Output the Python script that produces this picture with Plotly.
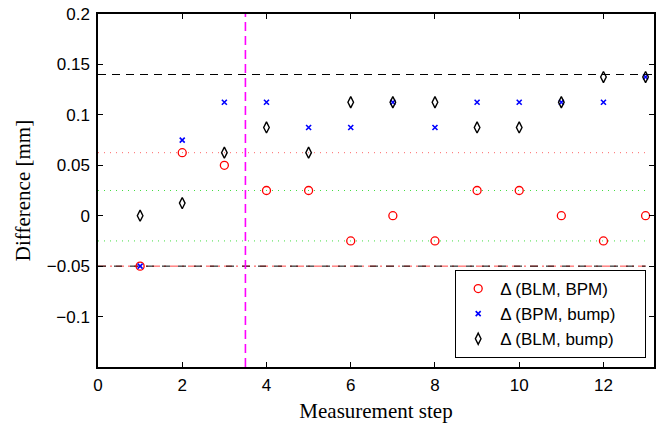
import plotly.graph_objects as go

steps = list(range(1, 14))
blm_bpm = [-0.05, 0.0625, 0.05, 0.025, 0.025, -0.025, 0.0, -0.025, 0.025, 0.025, 0.0, -0.025, 0.0]
bpm_bump = [-0.05, 0.075, 0.1125, 0.1125, 0.0875, 0.0875, 0.1125, 0.0875, 0.1125, 0.1125, 0.1125, 0.1125, 0.1375]
blm_bump = [0.0, 0.0125, 0.0625, 0.0875, 0.0625, 0.1125, 0.1125, 0.1125, 0.0875, 0.0875, 0.1125, 0.1375, 0.1375]

series_names = ["\u0394 (BLM, BPM)", "\u0394 (BPM, bump)", "\u0394 (BLM, bump)"]

upper_limit = 0.14
lower_limit = -0.05
red_level = 0.0625
green_levels = [0.025, -0.025]
split_step = 3.5

x_ticks = [0, 2, 4, 6, 8, 10, 12]
y_ticks = [-0.1, -0.05, 0, 0.05, 0.1, 0.15, 0.2]
y_tick_text = ["\u22120.1", "\u22120.05", "0", "0.05", "0.1", "0.15", "0.2"]

fig = go.Figure()

def hline(y, x0, x1, color, dash, width=1):
    fig.add_trace(go.Scatter(x=[x0, x1], y=[y, y], mode="lines",
                             line=dict(color=color, dash=dash, width=width),
                             showlegend=False, hoverinfo="skip"))

hline(upper_limit, 0, 13.2, "black", "8px,6px", 1.2)
hline(red_level, 0, 13, "#ff6666", "1px,5px", 1)
for g in green_levels:
    hline(g, 0, 13, "#44dd44", "1px,5px", 1)
hline(lower_limit, 0, 13, "#ff4444", "8px,4px,2px,4px", 1)
hline(lower_limit, 0, 13, "black", "8px,8px", 1)

fig.add_trace(go.Scatter(x=[split_step, split_step], y=[-0.15, 0.2], mode="lines",
                         line=dict(color="#ff00ff", dash="9px,5px", width=1.6),
                         showlegend=False, hoverinfo="skip"))

pad = "\u00a0\u00a0\u00a0\u00a0\u00a0"
fig.add_trace(go.Scatter(x=steps, y=blm_bpm, mode="markers", name=series_names[0] + pad,
                         marker=dict(symbol="circle-open", size=8, color="red",
                                     line=dict(width=1.3, color="red"))))
fig.add_trace(go.Scatter(x=steps, y=bpm_bump, mode="markers", name=series_names[1] + pad,
                         marker=dict(symbol="x-thin-open", size=5, color="blue",
                                     line=dict(width=1.6, color="blue"))))
fig.add_trace(go.Scatter(x=steps, y=blm_bump, mode="markers", name=series_names[2] + pad,
                         marker=dict(symbol="diamond-tall-open", size=8, color="black",
                                     line=dict(width=1.4, color="black"))))

axis_common = dict(showgrid=False, zeroline=False, showline=True, linecolor="black",
                   linewidth=1.5, mirror="ticks", ticks="inside", ticklen=5,
                   tickcolor="black", tickwidth=1, automargin=False,
                   tickfont=dict(family="Liberation Sans, Arial", size=17, color="black"))

title_font = dict(family="Liberation Serif, serif", size=21, color="black")

fig.update_xaxes(range=[0, 13.2], tickvals=x_ticks, ticklabelstandoff=2,
                 title=dict(text="Measurement step", standoff=9, font=title_font),
                 **axis_common)
fig.update_yaxes(range=[-0.15, 0.2], tickvals=y_ticks, ticktext=y_tick_text, ticklabelstandoff=3,
                 title=dict(text="Difference [mm]", standoff=10, font=title_font),
                 **axis_common)

fig.update_layout(
    width=665, height=424, autosize=False,
    margin=dict(l=98, r=11, t=14, b=57, autoexpand=False),
    plot_bgcolor="white", paper_bgcolor="white",
    legend=dict(x=0.9856, y=0.026, xanchor="right", yanchor="bottom",
                bgcolor="white", bordercolor="black", borderwidth=1.2,
                font=dict(family="Liberation Sans, Arial", size=17, color="black"),
                tracegroupgap=0, itemwidth=34),
)

fig.write_html("out.html", config={"displayModeBar": False},
               post_script="document.body.style.margin='0';document.body.style.overflow='hidden';")
